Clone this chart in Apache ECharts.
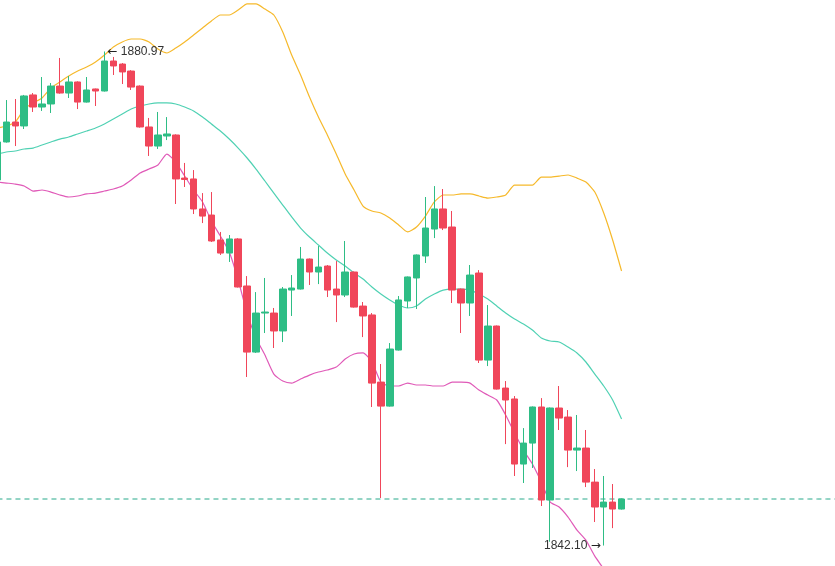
<!DOCTYPE html>
<html>
<head>
<meta charset="utf-8">
<script src="https://cdn.jsdelivr.net/npm/echarts@6/dist/echarts.min.js"></script>
<style>
html,body{margin:0;padding:0;background:#fff;overflow:hidden;width:835px;height:566px;position:relative;}
#chart{position:absolute;left:-7.37px;top:0;width:846.74px;height:566px;}
</style>
</head>
<body>
<div id="chart"></div>
<script>
// ---- data ----
const opens  = [1870.86,1873.85,1875.42,1875.11,1877.55,1876.60,1876.84,1878.25,1877.70,1878.57,1876.99,1878.02,1877.86,1880.22,1879.98,1879.43,1878.25,1875.03,1873.53,1874.32,1874.40,1871.01,1870.94,1868.58,1868.10,1866.14,1865.11,1866.22,1862.52,1857.32,1860.39,1860.39,1858.98,1862.20,1862.28,1864.64,1863.62,1864.09,1862.28,1861.81,1863.62,1860.94,1860.24,1854.96,1853.07,1857.48,1861.34,1863.15,1864.88,1867.00,1868.58,1867.16,1862.28,1861.18,1863.54,1856.69,1859.37,1854.49,1853.63,1848.51,1850.16,1853.00,1845.68,1852.92,1852.21,1849.61,1849.77,1847.09,1845.13,1845.52,1844.97];
const closes = [1873.85,1875.42,1875.11,1877.47,1876.60,1876.84,1878.25,1877.70,1878.57,1876.99,1877.94,1877.86,1880.22,1879.83,1879.36,1878.17,1875.03,1873.53,1874.40,1874.48,1870.94,1870.90,1868.58,1868.02,1866.06,1865.11,1866.22,1862.44,1857.32,1860.39,1860.47,1858.98,1862.28,1862.36,1864.64,1863.62,1864.01,1862.20,1861.81,1863.62,1860.86,1860.16,1854.88,1853.07,1857.56,1861.42,1863.23,1864.96,1867.08,1868.58,1867.08,1862.20,1861.18,1863.38,1856.69,1859.37,1854.41,1853.55,1848.51,1850.16,1853.00,1845.68,1852.92,1852.13,1849.61,1849.77,1847.09,1845.13,1845.52,1844.97,1845.76];
const lows   = [1870.70,1873.80,1873.53,1874.87,1876.21,1876.29,1876.13,1877.65,1877.31,1876.44,1876.95,1876.68,1877.82,1879.12,1878.41,1877.94,1874.98,1872.75,1873.30,1874.00,1868.97,1870.31,1868.18,1867.47,1865.98,1864.96,1864.41,1862.40,1855.36,1857.25,1858.82,1857.64,1858.11,1860.16,1862.24,1862.60,1862.67,1861.65,1859.68,1861.65,1860.82,1858.50,1853.00,1845.84,1853.03,1857.44,1860.79,1860.71,1864.33,1866.29,1866.92,1861.18,1858.82,1860.16,1856.46,1856.22,1854.37,1850.08,1847.57,1847.02,1848.20,1845.21,1842.40,1851.19,1848.27,1847.96,1846.70,1843.95,1842.10,1843.47,1844.93];
const highs  = [1874.16,1877.15,1877.23,1877.55,1877.70,1878.96,1878.49,1880.46,1879.04,1878.62,1878.96,1878.05,1880.97,1880.54,1880.06,1879.50,1878.30,1875.74,1876.21,1875.81,1874.45,1872.20,1871.64,1869.83,1869.91,1866.77,1866.53,1866.28,1863.30,1862.04,1863.15,1860.79,1862.44,1863.38,1865.59,1864.68,1865.66,1864.17,1864.48,1866.06,1863.66,1861.26,1860.39,1856.38,1858.03,1861.73,1863.27,1865.00,1869.52,1870.38,1870.15,1868.42,1862.32,1864.17,1863.77,1861.02,1859.41,1855.04,1853.86,1851.34,1853.04,1853.70,1852.96,1854.65,1852.76,1852.37,1851.19,1848.12,1847.57,1846.94,1845.80];

const upperBand  = [1874.95,1875.11,1875.42,1876.44,1876.92,1877.31,1878.10,1878.57,1879.04,1879.43,1879.75,1880.14,1880.69,1881.32,1881.72,1881.95,1881.95,1881.72,1881.16,1880.85,1881.24,1881.72,1882.27,1882.82,1883.37,1883.84,1883.84,1884.23,1884.71,1884.71,1884.31,1883.84,1882.50,1880.69,1879.12,1877.39,1875.81,1874.40,1872.90,1871.33,1870.07,1868.81,1868.42,1868.26,1867.87,1867.32,1866.77,1867.16,1868.02,1869.13,1869.68,1869.68,1869.76,1869.76,1869.60,1869.44,1869.52,1869.68,1870.46,1870.46,1870.46,1871.09,1871.09,1871.17,1871.25,1871.01,1870.70,1869.91,1868.26,1866.14,1863.70];
const middleBand = [1872.90,1873.06,1873.14,1873.30,1873.37,1873.61,1873.85,1874.08,1874.24,1874.48,1874.71,1874.95,1875.26,1875.66,1876.05,1876.44,1876.68,1876.84,1876.92,1876.92,1876.84,1876.60,1876.29,1875.81,1875.26,1874.71,1874.08,1873.37,1872.59,1871.72,1870.78,1869.83,1868.89,1867.95,1867.08,1866.37,1865.74,1865.11,1864.56,1864.09,1863.54,1863.07,1862.44,1861.89,1861.42,1861.02,1860.79,1860.94,1861.49,1861.89,1862.20,1862.28,1862.28,1862.20,1861.89,1861.49,1860.94,1860.39,1859.92,1859.53,1859.05,1858.43,1858.19,1858.11,1857.72,1857.25,1856.54,1855.59,1854.65,1853.55,1852.05];
const lowerBand  = [1870.70,1870.62,1870.54,1870.39,1869.99,1870.07,1869.91,1869.68,1869.52,1869.60,1869.76,1869.83,1869.99,1870.15,1870.39,1870.86,1871.41,1871.72,1872.04,1872.90,1872.27,1871.17,1870.07,1869.13,1867.63,1866.45,1865.19,1862.99,1860.39,1858.43,1857.09,1855.59,1855.04,1854.88,1855.20,1855.51,1855.75,1855.91,1856.14,1856.77,1857.17,1857.25,1856.54,1854.96,1854.65,1854.65,1854.88,1854.73,1854.73,1854.65,1854.65,1854.96,1854.96,1854.88,1854.33,1853.94,1853.55,1852.37,1850.95,1849.61,1848.51,1847.09,1845.52,1845.13,1844.34,1843.32,1842.53,1841.27,1840.25,1838.99,1837.81];

const highestValue = 1880.97, highestIndex = 12;
const lowestValue = 1842.10, lowestIndex = 68;
const lastPrice = 1845.76;

const slotCount = 95; // candles plus empty space on the right
const categories = Array.from({length: slotCount}, (_, i) => String(i + 1));
const ohlc = opens.map((o, i) => [o, closes[i], lows[i], highs[i]]);
// current-price guide: the last close, spread across the axis
const priceLine = categories.map(() => lastPrice);

const UP = '#2ebd85', DOWN = '#f0465a';
const labelRich = {
  a: {fontFamily: 'DejaVu Sans', fontSize: 12, color: '#222'},
  n: {fontFamily: 'Liberation Sans, Arial, sans-serif', fontSize: 12, color: '#333'}
};

const chart = echarts.init(document.getElementById('chart'), null, {renderer: 'canvas'});
chart.setOption({
  animation: false,
  backgroundColor: '#ffffff',
  grid: {left: 0, right: 0, top: 0, bottom: 0, containLabel: false},
  xAxis: {
    type: 'category', data: categories, boundaryGap: true,
    axisLine: {show: false}, axisTick: {show: false}, axisLabel: {show: false}, splitLine: {show: false}
  },
  yAxis: {
    type: 'value', min: 1840.49, max: 1885.02, scale: true,
    axisLine: {show: false}, axisTick: {show: false}, axisLabel: {show: false}, splitLine: {show: false}
  },
  series: [
    {
      type: 'line', data: upperBand, symbol: 'none', smooth: 0.2, clip: true,
      lineStyle: {color: '#f6b92b', width: 1.2}, z: 1
    },
    {
      type: 'line', data: middleBand, symbol: 'none', smooth: 0.2, clip: true,
      lineStyle: {color: '#4fd1b3', width: 1.2}, z: 1
    },
    {
      type: 'line', data: lowerBand, symbol: 'none', smooth: 0.2, clip: true,
      lineStyle: {color: '#e05ab8', width: 1.2}, z: 1
    },
    {
      type: 'line', data: priceLine, symbol: 'none', silent: true, z: 2,
      lineStyle: {color: '#26a98a', width: 1, type: [5, 4]}
    },
    {
      type: 'candlestick', data: ohlc, barWidth: 7, z: 3,
      itemStyle: {color: UP, color0: DOWN, borderColor: UP, borderColor0: DOWN, borderWidth: 1},
      markPoint: {
        symbol: 'circle', symbolSize: 0, silent: true,
        label: {show: true, fontSize: 12, rich: labelRich},
        data: [
          {coord: [highestIndex, highestValue], value: highestValue,
           label: {position: 'right', distance: 3, formatter: '{a|\u2190}{n| ' + highestValue.toFixed(2) + '}', rich: labelRich}},
          {coord: [lowestIndex, lowestValue], value: lowestValue,
           label: {position: 'left', distance: 3, formatter: '{n|' + lowestValue.toFixed(2) + ' }{a|\u2192}', rich: labelRich}}
        ]
      }
    }
  ]
});
</script>
</body>
</html>
